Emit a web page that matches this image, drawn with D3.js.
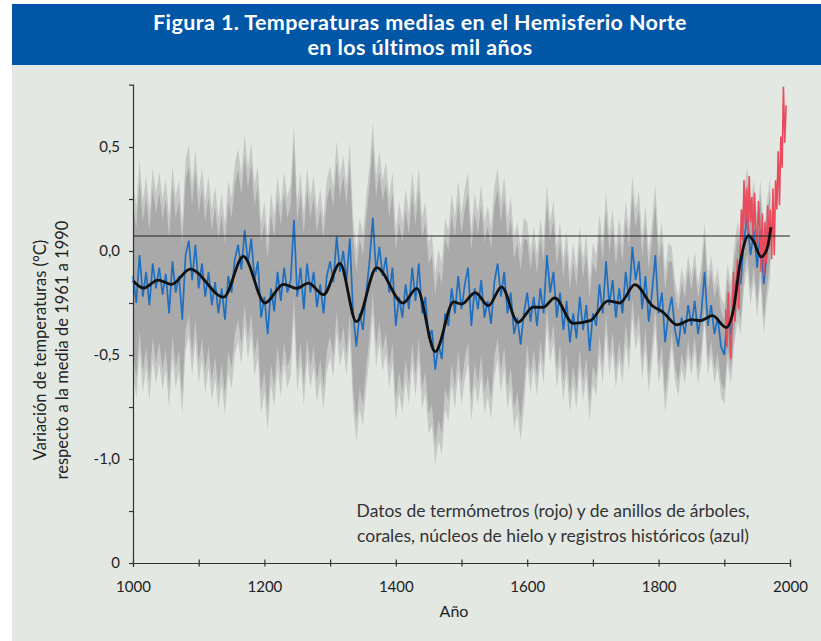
<!DOCTYPE html>
<html>
<head>
<meta charset="utf-8">
<script src="https://cdn.jsdelivr.net/npm/d3@7"></script>
<style>
  body { margin: 0; background: #fff; }
  svg { display: block; font-family: Lato, "Open Sans", sans-serif; }
</style>
</head>
<body>
<div id="chart"></div>
<script>
const W = 821, H = 641;

// reconstruction (blue), every 5 years from 1000
const blueStart = 1000, blueStep = 5;
const blueValues = [
  -0.12, -0.25, -0.02, -0.22, -0.10, -0.26, -0.06, -0.18, -0.08, -0.21,
  -0.11, -0.30, -0.05, -0.20, -0.12, -0.33, -0.02,  0.05, -0.14,  0.03,
  -0.18, -0.06, -0.22, -0.10, -0.26, -0.15, -0.30, -0.18, -0.33, -0.12,
  -0.20, -0.04,  0.03, -0.09,  0.10, -0.06,  0.06, -0.14, -0.05, -0.32,
  -0.22, -0.40, -0.18, -0.29, -0.10, -0.24, -0.08, -0.20, -0.14,  0.15,
  -0.22, -0.08, -0.28, -0.06, -0.20, -0.10, -0.27, -0.16, -0.30, -0.12,
  -0.05, -0.15,  0.07, -0.10,  0.00, -0.14,  0.06, -0.30, -0.46, -0.30,
  -0.38, -0.20, -0.05,  0.16, -0.10,  0.02, -0.12, -0.03, -0.20, -0.08,
  -0.36, -0.22, -0.32, -0.16, -0.28, -0.08, -0.24, -0.06, -0.30, -0.22,
  -0.42, -0.38, -0.57, -0.45, -0.52, -0.30, -0.36, -0.18, -0.30, -0.12,
  -0.28, -0.16, -0.08, -0.36, -0.18, -0.28, -0.14, -0.32, -0.24, -0.35,
  -0.15, -0.06, -0.22, -0.10, -0.30, -0.20, -0.40, -0.32, -0.45, -0.30,
  -0.20, -0.34, -0.22, -0.36, -0.18, -0.30, -0.02, -0.20, -0.10, -0.32,
  -0.20, -0.38, -0.24, -0.44, -0.30, -0.42, -0.22, -0.38, -0.26, -0.48,
  -0.30, -0.36, -0.16, -0.30, -0.05, -0.26, -0.14, -0.32, -0.18, -0.30,
  -0.10, -0.24,  0.02, -0.14, -0.05, -0.28, -0.12, -0.34, -0.20, -0.02,
  -0.30, -0.20, -0.44, -0.30, -0.22, -0.38, -0.46, -0.32, -0.40, -0.26,
  -0.36, -0.24, -0.40, -0.30, -0.10, -0.36, -0.26, -0.40, -0.32, -0.46,
  -0.50, -0.30, -0.40, -0.22, -0.10, -0.16,  0.06,  0.16, -0.02,  0.10,
  -0.08,  0.10, -0.16,  0.00,  0.12
];

// uncertainty half-widths around the reconstruction (grey band)
const eraStart      = [1000, 1600, 1820];
const bandCoreHalf  = [0.36, 0.25, 0.17];
const bandFringeHalf= [0.46, 0.34, 0.24];

// thermometer record (red), every 2 years from 1902
const redStart = 1902, redStep = 2;
const redValues = [
  -0.28, -0.46, -0.20, -0.40, -0.52, -0.30, -0.10, -0.34, -0.22, -0.04,
  -0.28, -0.02,  0.20,  0.05,  0.34,  0.12,  0.30,  0.08,  0.36,  0.14,
   0.26,  0.05,  0.28,  0.10,  0.02,  0.24,  0.12, -0.10,  0.18, -0.12,
   0.14, -0.06,  0.22,  0.02,  0.20, -0.04,  0.30, -0.02,  0.34,  0.20,
   0.48,  0.22,  0.55,  0.40,  0.79,  0.52,  0.70
];

// smoothed curve (black)
const smoothYears = [1000,1016,1038,1059,1087,1138,1168,1201,1229,1249,1267,1290,1315,1340,1371,1411,1432,1460,1488,1500,1521,1541,1561,1586,1609,1624,1642,1670,1696,1723,1741,1764,1790,1807,1828,1850,1863,1882,1903,1914,1924,1937,1944,1956,1965,1971];
const smoothVals  = [-0.143,-0.178,-0.14,-0.16,-0.087,-0.222,-0.026,-0.25,-0.16,-0.18,-0.154,-0.21,-0.06,-0.34,-0.08,-0.25,-0.18,-0.484,-0.245,-0.255,-0.20,-0.263,-0.172,-0.343,-0.27,-0.271,-0.225,-0.348,-0.335,-0.24,-0.25,-0.162,-0.262,-0.295,-0.355,-0.33,-0.335,-0.311,-0.368,-0.28,-0.06,0.074,0.05,-0.028,0.01,0.114];

const refLineValue = 0.072;

const xTickValues = d3.range(1000, 2001, 100);
const xLabelYears = [1000, 1200, 1400, 1600, 1800, 2000];
const yTickValues = [-1.5, -1.25, -1, -0.75, -0.5, -0.25, 0, 0.25, 0.5];
const yLabelValues = [0.5, 0, -0.5, -1, -1.5];
const yLabelTexts  = ["0,5", "0,0", "-0,5", "-1,0", "0"];

const titleLines = ["Figura 1. Temperaturas medias en el Hemisferio Norte", "en los últimos mil años"];
const noteLines = ["Datos de termómetros (rojo) y de anillos de árboles,", "corales, núcleos de hielo y registros históricos (azul)"];

const blue = blueValues.map((v, i) => ({year: blueStart + i * blueStep, v}));
const red = redValues.map((v, i) => ({year: redStart + i * redStep, v}));
const smooth = smoothYears.map((yr, i) => ({year: yr, v: smoothVals[i]}));
function eraIndex(yr){ let k = 0; eraStart.forEach((s, i) => { if (yr >= s) k = i; }); return k; }

const svg = d3.select("#chart").append("svg").attr("width", W).attr("height", H);

svg.append("rect").attr("x", 12).attr("y", 4).attr("width", W - 12).attr("height", H - 4).attr("fill", "#e3e8e3");
svg.append("rect").attr("x", 12).attr("y", 4).attr("width", W - 12).attr("height", 61).attr("fill", "#0256a6");
svg.append("g").selectAll("text").data(titleLines).join("text")
  .attr("x", 420).attr("y", (d, i) => 30 + i * 25)
  .attr("text-anchor", "middle").attr("fill", "#fff")
  .attr("font-size", 21.5).attr("font-weight", "bold").attr("letter-spacing", 0.4)
  .text(d => d);

const x = d3.scaleLinear().domain([1000, 2000]).range([133, 790]);
const y = d3.scaleLinear().domain([-1.5, 0.8]).range([563, 84.6]);

// grey uncertainty band
const fringe = d3.area().x(d => x(d.year))
  .y0(d => y(d.v - bandFringeHalf[eraIndex(d.year)]))
  .y1(d => y(d.v + bandFringeHalf[eraIndex(d.year)]));
const core = d3.area().x(d => x(d.year))
  .y0(d => y(d.v - bandCoreHalf[eraIndex(d.year)]))
  .y1(d => y(d.v + bandCoreHalf[eraIndex(d.year)]));
svg.append("path").datum(blue).attr("d", fringe).attr("fill", "#c6c8c6");
svg.append("path").datum(blue).attr("d", core).attr("fill", "#a9a9a9");

const line = d3.line().x(d => x(d.year)).y(d => y(d.v));
svg.append("path").datum(blue).attr("d", line)
  .attr("fill", "none").attr("stroke", "#1f6fc0").attr("stroke-width", 1.7);
svg.append("path").datum(red).attr("d", line)
  .attr("fill", "none").attr("stroke", "#e94a5c").attr("stroke-width", 1.6);

svg.append("line")
  .attr("x1", x(1000)).attr("x2", x(2000))
  .attr("y1", y(refLineValue)).attr("y2", y(refLineValue))
  .attr("stroke", "#222").attr("stroke-width", 1);

svg.append("path").datum(smooth)
  .attr("d", d3.line().x(d => x(d.year)).y(d => y(d.v)).curve(d3.curveMonotoneX))
  .attr("fill", "none").attr("stroke", "#111").attr("stroke-width", 2.8);

// axes
const gx = svg.append("g").attr("transform", `translate(0,${y(-1.5)})`)
  .call(d3.axisBottom(x).tickValues(xTickValues).tickSizeOuter(0).tickSize(4)
    .tickFormat(d => xLabelYears.includes(d) ? d : ""));
gx.selectAll(".tick line").attr("y1", -3.5).attr("y2", 3.5);
gx.selectAll(".tick text").attr("y", 18);

const gy = svg.append("g").attr("transform", `translate(${x(1000)},0)`)
  .call(d3.axisLeft(y).tickValues(yTickValues).tickSizeOuter(0).tickSize(4).tickPadding(9)
    .tickFormat(d => { const k = yLabelValues.indexOf(d); return k < 0 ? "" : yLabelTexts[k]; }));

[gx, gy].forEach(g => {
  g.attr("font-family", null).attr("font-size", 15);
  g.selectAll("path, line").attr("stroke", "#333").attr("stroke-width", 1.2);
  g.selectAll("text").attr("fill", "#222");
});

svg.append("text").attr("x", 454).attr("y", 617).attr("text-anchor", "middle")
  .attr("font-size", 16).attr("fill", "#222").text("Año");

svg.append("text").attr("transform", "translate(46,350) rotate(-90)")
  .attr("text-anchor", "middle").attr("font-size", 16.5).attr("fill", "#222")
  .selectAll("tspan").data(["Variación de temperaturas (°C)", "respecto a la media de 1961 a 1990"]).join("tspan")
  .attr("x", 0).attr("dy", (d, i) => i ? 22 : 0).text(d => d);

svg.append("g").selectAll("text").data(noteLines).join("text")
  .attr("x", 553).attr("y", (d, i) => 517 + i * 25)
  .attr("text-anchor", "middle").attr("font-size", 17.5).attr("fill", "#333")
  .text(d => d);
</script>
</body>
</html>
